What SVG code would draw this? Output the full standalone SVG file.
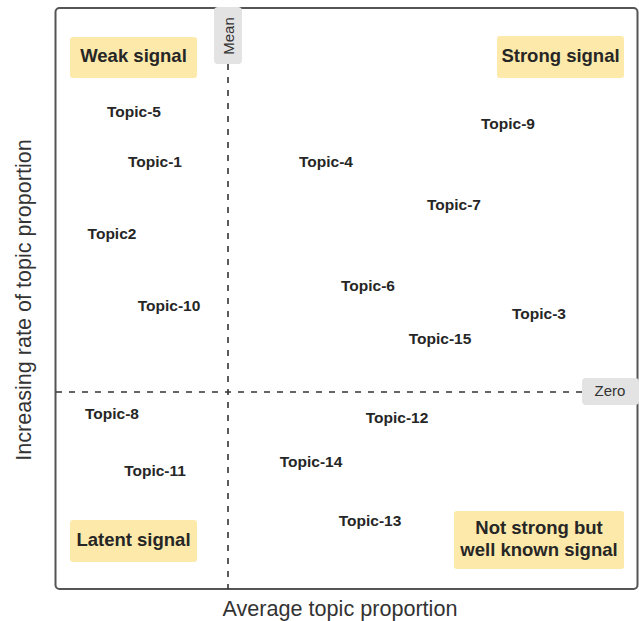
<svg xmlns="http://www.w3.org/2000/svg" width="639" height="621" viewBox="0 0 639 621">
<style>
.topic{font-family:"Liberation Sans",Arial,sans-serif;font-weight:bold;font-size:15.5px;fill:#262626;text-anchor:middle;dominant-baseline:central}
.qbox{fill:#fde9a9;stroke:none}
.qtxt{font-family:"Liberation Sans",Arial,sans-serif;font-weight:bold;font-size:18.5px;fill:#262626;text-anchor:middle;dominant-baseline:central}
.tag{fill:#e3e3e3;stroke:none}
.tagtxt{font-family:"Liberation Sans",Arial,sans-serif;font-size:15px;fill:#333;text-anchor:middle;dominant-baseline:central}
.axis{font-family:"Liberation Sans",Arial,sans-serif;font-size:21.6px;fill:#333;text-anchor:middle;dominant-baseline:central}
.dash{stroke:#333;stroke-width:1.6;stroke-dasharray:6 7;fill:none}
</style>
<rect x="55.5" y="8" width="582" height="581" rx="4" fill="#fff" stroke="#555" stroke-width="2"/>
<g id="connectors">
<line class="dash" x1="228" y1="64" x2="228" y2="589"/>
<line class="dash" x1="56" y1="392" x2="582" y2="392"/>
</g>
<g id="mean"><rect class="tag" x="214" y="7" width="28" height="57" rx="4"/><text class="tagtxt" transform="translate(228,36) rotate(-90)">Mean</text></g>
<g id="zero"><rect class="tag" x="582" y="378" width="57" height="27" rx="4"/><text class="tagtxt" x="610" y="390">Zero</text></g>
<g id="weak"><rect class="qbox" x="70" y="37" width="127" height="41" rx="3"/><text class="qtxt" x="133.5" y="55">Weak signal</text></g>
<g id="strong"><rect class="qbox" x="497" y="36" width="127" height="42" rx="3"/><text class="qtxt" x="560.5" y="55">Strong signal</text></g>
<g id="latent"><rect class="qbox" x="70" y="520" width="127" height="42" rx="3"/><text class="qtxt" x="133.5" y="539">Latent signal</text></g>
<g id="notstrong"><rect class="qbox" x="454" y="511" width="170" height="58" rx="3"/><text class="qtxt" x="539" y="527">Not strong but</text><text class="qtxt" x="539" y="549">well known signal</text></g>
<g id="t5"><text class="topic" x="134" y="111">Topic-5</text></g>
<g id="t1"><text class="topic" x="155" y="161">Topic-1</text></g>
<g id="t2"><text class="topic" x="112" y="233">Topic2</text></g>
<g id="t10"><text class="topic" x="169" y="305">Topic-10</text></g>
<g id="t4"><text class="topic" x="326" y="161">Topic-4</text></g>
<g id="t9"><text class="topic" x="508" y="123">Topic-9</text></g>
<g id="t7"><text class="topic" x="454" y="204">Topic-7</text></g>
<g id="t6"><text class="topic" x="368" y="285">Topic-6</text></g>
<g id="t3"><text class="topic" x="539" y="313">Topic-3</text></g>
<g id="t15"><text class="topic" x="440" y="338">Topic-15</text></g>
<g id="t8"><text class="topic" x="112" y="413">Topic-8</text></g>
<g id="t11"><text class="topic" x="155" y="470">Topic-11</text></g>
<g id="t12"><text class="topic" x="397" y="417">Topic-12</text></g>
<g id="t14"><text class="topic" x="311" y="461">Topic-14</text></g>
<g id="t13"><text class="topic" x="370" y="520">Topic-13</text></g>
<g id="xlabel"><text class="axis" x="340" y="608">Average topic proportion</text></g>
<g id="ylabel"><text class="axis" transform="translate(23,300) rotate(-90)">Increasing rate of topic proportion</text></g>
</svg>
